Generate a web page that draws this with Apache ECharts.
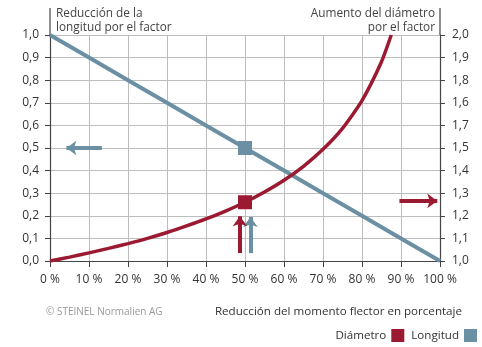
<!DOCTYPE html>
<html><head><meta charset="utf-8">
<script src="https://cdn.jsdelivr.net/npm/echarts@6/dist/echarts.min.js"></script>
<style>html,body{margin:0;padding:0;background:#fff}#c{width:482px;height:347px}</style>
</head><body><div id="c"></div>
<script>
// Data
const xTicks = [0,10,20,30,40,50,60,70,80,90,100];
// Right-axis tick labels as printed in the reference (1,6 and 1,7 appear swapped there)
const rightTickLabels = ['1,0','1,1','1,2','1,3','1,4','1,5','1,7','1,6','1,8','1,9','2,0'];
const diamX = [0,5,10,15,20,25,30,35,40,45,50,55,60,65,70,75,80,85,87.5];
const diamY = [1.0,1.017,1.036,1.056,1.077,1.1,1.126,1.155,1.186,1.221,1.26,1.305,1.357,1.419,1.494,1.587,1.71,1.882,2.0];
const longX = [0,10,20,30,40,50,60,70,80,90,100];
const longY = [1.0,0.9,0.8,0.7,0.6,0.5,0.4,0.3,0.2,0.1,0.0];
const diamMarker = [50,1.26];
const longMarker = [50,0.5];

const RED = '#9c1a31', BLUE = '#6b8fa3';
const FONT = 'Open Sans';
const chart = echarts.init(document.getElementById('c'));
const grid = {left:50,right:42,top:35,bottom:86};
chart.setOption({
  animation:false,
  textStyle:{fontFamily:FONT},
  grid: grid,
  title:[
    {text:'Reducción del momento flector en porcentaje', right:15, top:301,
     textStyle:{fontFamily:FONT,fontSize:11.6,fontWeight:'normal',color:'#333'}},
    {text:'© STEINEL Normalien AG', left:41, top:302,
     textStyle:{fontFamily:FONT,fontSize:10,fontWeight:'normal',color:'#999'}}
  ],
  legend:{
    right:5, bottom:5, padding:0, align:'right', icon:'rect', itemWidth:13, itemHeight:13, itemGap:7,
    textStyle:{fontFamily:FONT,fontSize:11.6,color:'#333'},
    data:['Diámetro','Longitud']
  },
  xAxis:{
    type:'value', min:0, max:100, interval:10,
    axisLine:{lineStyle:{color:'#444',width:1.2}},
    axisTick:{show:true,length:6,lineStyle:{color:'#444'}},
    axisLabel:{margin:13,fontSize:12,color:'#333',formatter:v=>v+' %'},
    splitLine:{show:true,lineStyle:{color:'#bdbdbd',width:1}}
  },
  yAxis:[{
    type:'value', min:0, max:1, interval:0.1, position:'left',
    name:'Reducción de la\nlongitud por el factor', nameLocation:'end', nameGap:0,
    nameTextStyle:{align:'left',verticalAlign:'bottom',fontSize:11.8,lineHeight:14,color:'#444',padding:[0,0,0,6]},
    axisLine:{show:true,lineStyle:{color:'#444',width:1.2}},
    axisTick:{show:true,length:5,lineStyle:{color:'#444'}},
    axisLabel:{margin:11,fontSize:12,color:'#333',formatter:v=>v.toFixed(1).replace('.',',')},
    splitLine:{show:true,lineStyle:{color:'#bdbdbd',width:1}}
  },{
    type:'value', min:1, max:2, interval:0.1, position:'right',
    name:'Aumento del diámetro\npor el factor', nameLocation:'end', nameGap:0,
    nameTextStyle:{align:'right',verticalAlign:'bottom',fontSize:11.8,lineHeight:14,color:'#444',padding:[0,5,0,0]},
    axisLine:{show:true,lineStyle:{color:'#444',width:1.2}},
    axisTick:{show:true,length:5,lineStyle:{color:'#444'}},
    axisLabel:{margin:12,fontSize:12,color:'#333',formatter:v=>rightTickLabels[Math.round((v-1)*10)]},
    splitLine:{show:false}
  }],
  graphic:[
    {type:'line',shape:{x1:50,y1:8,x2:50,y2:35},style:{stroke:'#444',lineWidth:1.2}},
    {type:'line',shape:{x1:440,y1:8,x2:440,y2:35},style:{stroke:'#444',lineWidth:1.2}}
  ],
  series:[{
    name:'Longitud', type:'line', yAxisIndex:0, showSymbol:false, z:3,
    color:BLUE, lineStyle:{color:BLUE,width:4},
    data: longX.map((x,i)=>[x,longY[i]]),
    markPoint:{symbol:'rect',symbolSize:14,label:{show:false},itemStyle:{color:BLUE},
      data:[{coord:longMarker}]},
    markLine:{silent:true,symbol:['none','arrow'],symbolSize:[11,10],label:{show:false},
      lineStyle:{color:BLUE,width:4,type:'solid'},
      data:[[{coord:[13.3,0.5]},{coord:[4.2,0.5]}],
            [{coord:[51.4,0.035]},{coord:[51.4,0.195]}]]}
  },{
    name:'Diámetro', type:'line', yAxisIndex:1, showSymbol:false, smooth:0.2, z:4,
    color:RED, lineStyle:{color:RED,width:3.5},
    data: diamX.map((x,i)=>[x,diamY[i]]),
    markPoint:{symbol:'rect',symbolSize:14,label:{show:false},itemStyle:{color:RED},
      data:[{coord:diamMarker}]},
    markLine:{silent:true,symbol:['none','arrow'],symbolSize:[11,10],label:{show:false},
      lineStyle:{color:RED,width:4,type:'solid'},
      data:[[{coord:[89.6,1.266]},{coord:[99.3,1.266]}],
            [{coord:[48.7,1.035]},{coord:[48.7,1.198]}]]}
  }]
});
</script></body></html>
